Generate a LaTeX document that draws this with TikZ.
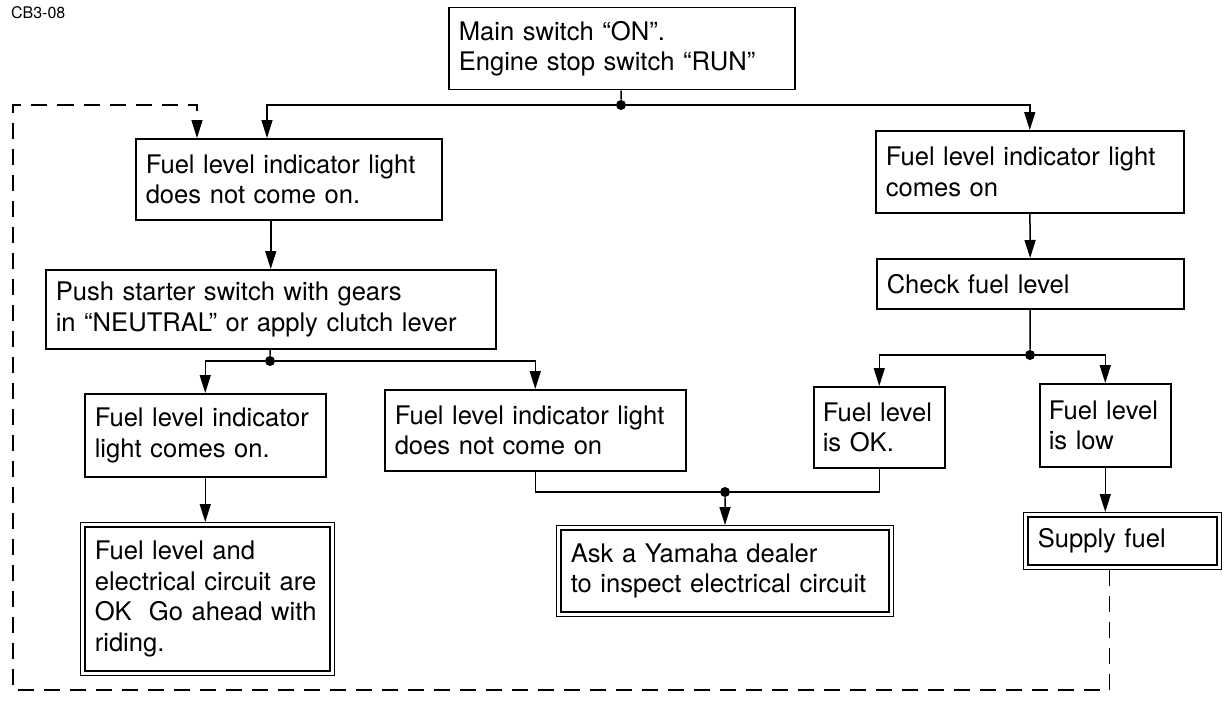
\documentclass[tikz,border=0pt]{standalone}
\usepackage{fontspec}
\setmainfont{TeX Gyre Heros}
\usetikzlibrary{arrows.meta, positioning, calc}

\begin{document}
\begin{tikzpicture}[
        x=0.5pt, y=-0.5pt,
        stepbox/.style={rectangle, draw, line width=0.75pt, anchor=north west, align=left, inner xsep=5pt, inner ysep=0pt, font=\fontsize{12.8}{15.3}\selectfont},
        finalbox/.style={stepbox, line width=0.6pt, double, double distance=1.6pt, outer sep=1.4pt, inner xsep=6pt},
        port/.style={circle, fill, inner sep=0pt, minimum size=5pt},
        connector/.style={draw, line width=0.75pt, -{Triangle[length=9pt,width=5.5pt]}},
        wire/.style={draw, line width=0.75pt},
        loopback/.style={dash pattern=on 8pt off 5pt}
    ]
        \useasboundingbox (0,0) rectangle (1224,701);

        % Nodes
        \node (mainsw) [stepbox, text width=163pt, minimum height=41pt] at (448,7) {Main switch “ON”.\\Engine stop switch “RUN”};
        \node (notlit) [stepbox, text width=143pt, minimum height=40.5pt] at (135,138) {Fuel level indicator light\\does not come on.};
        \node (starter) [stepbox, text width=215pt, minimum height=39.5pt] at (45,269) {Push starter switch with gears\\in “NEUTRAL” or apply clutch lever};
        \node (lit_a) [stepbox, text width=110.5pt, minimum height=41.5pt] at (84,393) {Fuel level indicator\\light comes on.};
        \node (notlit_b) [stepbox, text width=140.5pt, minimum height=40.5pt] at (384,389) {Fuel level indicator light\\does not come on};
        \node (okride) [finalbox, text width=112.7pt, minimum height=74.2pt] at (80,522) {Fuel level and\\electrical circuit are\\OK\ \ Go ahead with\\riding.};
        \node (dealer) [finalbox, text width=154.2pt, minimum height=43.2pt] at (556,525) {Ask a Yamaha dealer\\to inspect electrical circuit};

        \node (lit) [stepbox, text width=144pt, minimum height=41pt] at (875,130) {Fuel level indicator light\\comes on};
        \node (checkfuel) [stepbox, text width=143.5pt, minimum height=25pt] at (876,258) {Check fuel level};
        \node (fuelok) [stepbox, inner xsep=4.5pt, text width=56.5pt, minimum height=40.5pt] at (813,386) {Fuel level\\is OK.};
        \node (fuellow) [stepbox, inner xsep=4.5pt, text width=56.5pt, minimum height=41.5pt] at (1039,383) {Fuel level\\is low};
        \node (supply) [finalbox, text width=84.7pt, minimum height=26.2pt] at (1023,512) {Supply fuel};

        \node (split) [port] at (621,105) {};
        \node (split_a) [port] at (270,361) {};
        \node (merge) [port] at (725,492) {};
        \node (split_b) [port] at (1030,355) {};
        \coordinate (loopcorner) at (13,690);

        % Connectors
        \draw [wire] (mainsw) -- (split);
        \draw [connector] (split) -| ($(notlit.north west)+(132,0)$);
        \draw [connector] (split) -| (lit.north);
        \draw [connector] (starter.north |- notlit.south) -- (starter.north);
        \draw [wire] (starter) -- (split_a);
        \draw [connector] (split_a) -| (lit_a.north);
        \draw [connector] (split_a) -| (notlit_b.north);
        \draw [connector] (lit_a.south) -- (lit_a.south |- okride.north);
        \draw [wire] (notlit_b.south) |- (merge);
        \draw [wire] (fuelok.south) |- (merge);
        \draw [connector] (merge) -- (dealer);
        \draw [connector] (lit) -- (checkfuel);
        \draw [wire] (checkfuel) -- (split_b);
        \draw [connector] (split_b) -| (fuelok.north);
        \draw [connector] (split_b) -| (fuellow.north);
        \draw [connector] (fuellow.south) -- (fuellow.south |- supply.north);
        \draw [connector, loopback] ($(supply.south)+(-13,0)$) |- (loopcorner) |- ($(notlit.north west)+(62,-33)$) -- ($(notlit.north west)+(62,0)$);

        % Labels
        \node (code) [anchor=west, font=\fontsize{8}{9}\selectfont] at (4,13) {CB3-08};
    \end{tikzpicture}
\end{document}
